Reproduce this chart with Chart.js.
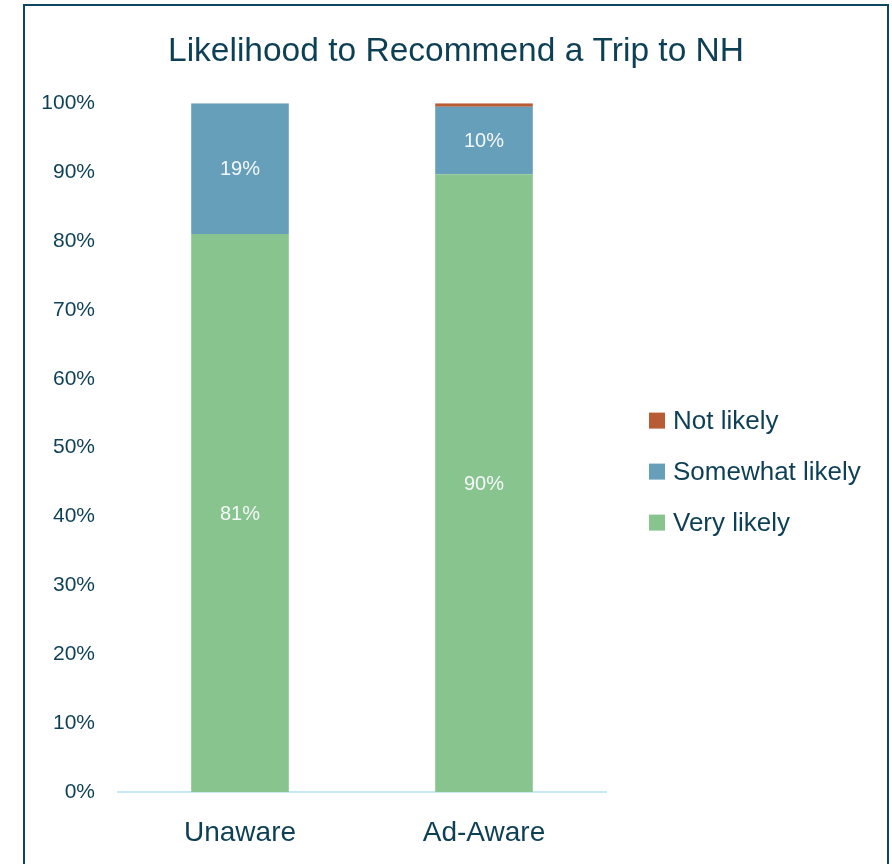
<!DOCTYPE html>
<html>
<head>
<meta charset="utf-8">
<title>Likelihood to Recommend a Trip to NH</title>
<script src="https://cdn.jsdelivr.net/npm/chart.js@4/dist/chart.umd.min.js"></script>
<style>
	html, body { margin: 0; padding: 0; background: #ffffff; overflow: hidden; }
	#frame {
		position: absolute; left: 23px; top: 4px;
		width: 866px; height: 900px;
		box-sizing: border-box;
		border: 2px solid #0e4560;
	}
	#wrap { position: absolute; left: 0; top: 0; width: 892px; height: 864px; }
</style>
</head>
<body>
<div id="frame"></div>
<div id="wrap"><canvas id="chart" width="892" height="864"></canvas></div>
<script>
// Chart data
var categories     = ['Unaware', 'Ad-Aware'];
var veryLikely     = [81, 89.7];
var somewhatLikely = [19, 9.8];
var notLikely      = [0, 0.5];
var yTicks         = [0, 10, 20, 30, 40, 50, 60, 70, 80, 90, 100];

(function () {
	'use strict';

	var textColor = '#0d3f55';
	var fontFamily = '"Liberation Sans", Arial, sans-serif';
	Chart.defaults.font.family = fontFamily;
	Chart.defaults.color = textColor;

	// Value labels in the middle of each segment
	var segmentLabels = {
		id: 'segmentLabels',
		afterDatasetsDraw: function (chart) {
			var ctx = chart.ctx;
			ctx.save();
			ctx.fillStyle = '#f4f8fa';
			ctx.font = '20px ' + fontFamily;
			ctx.textAlign = 'center';
			ctx.textBaseline = 'middle';
			chart.data.datasets.forEach(function (ds, di) {
				if (ds.label === 'Not likely') {
					return;
				}
				chart.getDatasetMeta(di).data.forEach(function (bar, i) {
					var v = ds.data[i];
					if (v < 5) {
						return;
					}
					ctx.fillText(Math.round(v) + '%', bar.x, (bar.y + bar.base) / 2 + 1);
				});
			});
			ctx.restore();
		}
	};

	// Legend to the right of the plot, top row = last dataset
	var sideLegend = {
		id: 'sideLegend',
		afterDraw: function (chart) {
			var ctx = chart.ctx;
			var area = chart.chartArea;
			var items = chart.data.datasets.slice().reverse();
			var rowGap = 51;
			var x = area.right + 43;
			var mid = (area.top + area.bottom) / 2 + 24;
			var y0 = mid - rowGap * (items.length - 1) / 2;

			ctx.save();
			ctx.font = '26px ' + fontFamily;
			ctx.textBaseline = 'middle';
			ctx.textAlign = 'left';
			items.forEach(function (ds, i) {
				var y = y0 + i * rowGap;
				ctx.fillStyle = ds.backgroundColor;
				ctx.fillRect(x, y - 8, 16, 16);
				ctx.fillStyle = textColor;
				ctx.fillText(ds.label, x + 24, y + 1);
			});
			ctx.restore();
		}
	};

	var config = {
		type: 'bar',
		data: {
			labels: categories,
			datasets: [
				{ label: 'Very likely', data: veryLikely, backgroundColor: '#88c48d' },
				{ label: 'Somewhat likely', data: somewhatLikely, backgroundColor: '#669fba' },
				{ label: 'Not likely', data: notLikely, backgroundColor: '#b85c35' }
			]
		},
		options: {
			responsive: false,
			animation: false,
			layout: { padding: { left: 37, right: 17, top: 0, bottom: 16 } },
			datasets: {
				bar: { categoryPercentage: 1, barPercentage: 0.4 }
			},
			plugins: {
				title: {
					display: true,
					text: 'Likelihood to Recommend a Trip to NH',
					color: textColor,
					font: { size: 33.5, weight: 'normal' },
					padding: { top: 32, bottom: 31 }
				},
				legend: { display: false },
				tooltip: { enabled: false }
			},
			scales: {
				x: {
					stacked: true,
					grid: { display: false, drawTicks: false },
					border: { display: true, color: '#c5e8f5', width: 2 },
					ticks: { color: textColor, font: { size: 28 }, padding: 24, maxRotation: 0 },
					afterFit: function (scale) { scale.height = 56; }
				},
				y: {
					stacked: true,
					min: 0,
					max: 100,
					afterBuildTicks: function (scale) {
						scale.ticks = yTicks.map(function (v) { return { value: v }; });
					},
					afterFit: function (scale) { scale.width = 81; },
					grid: { display: false, drawTicks: false },
					border: { display: false },
					ticks: {
						color: textColor,
						font: { size: 21 },
						padding: 23,
						callback: function (value) { return value + '%'; }
					}
				},
				// room on the right for the legend
				side: {
					position: 'right',
					display: true,
					grid: { display: false, drawTicks: false },
					border: { display: false },
					ticks: { display: false },
					afterFit: function (scale) { scale.width = 269; }
				}
			}
		},
		plugins: [segmentLabels, sideLegend]
	};

	new Chart(document.getElementById('chart'), config);
})();
</script>
</body>
</html>
